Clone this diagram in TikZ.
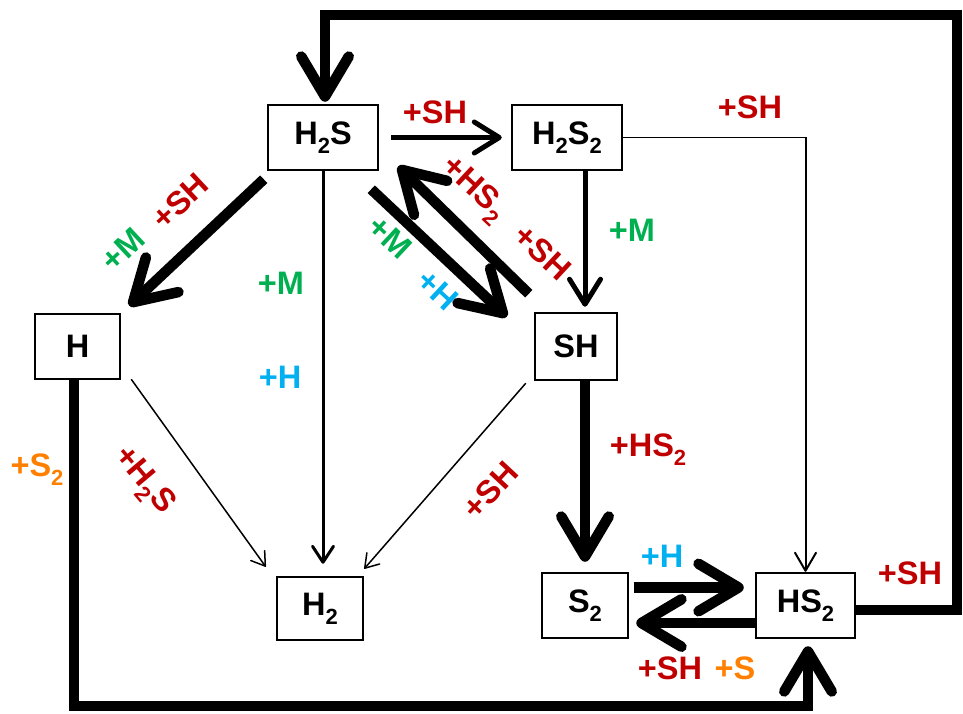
\documentclass[tikz,border=0pt]{standalone}
\usepackage{fontspec}
\setmainfont{Liberation Sans}
\usetikzlibrary{arrows.meta,calc}
\definecolor{cred}{HTML}{C00000}
\definecolor{cgreen}{HTML}{00B050}
\definecolor{cblue}{HTML}{00B0F0}
\definecolor{corange}{HTML}{FF8000}
\newcommand{\sbx}[1]{\raisebox{-0.28em}{\fontsize{12.5}{13}\selectfont #1}}
\begin{document}
\begin{tikzpicture}[x=0.02cm,y=-0.02cm,
  font=\fontsize{18.5}{20}\selectfont\bfseries,
  box/.style={draw, line width=0.05cm, minimum height=1.3cm, inner sep=0pt},
  lbl/.style={inner sep=0pt},
  thickc/.style={line width=0.21cm, -{Straight Barb[length=0.8cm,width=0.95cm,round]}},
  medc/.style={line width=0.1cm, -{Straight Barb[length=0.5cm,width=0.62cm,round]}},
  midc/.style={line width=0.06cm, -{Straight Barb[length=0.32cm,width=0.42cm,round]}},
  thinc/.style={line width=0.03cm, -{Straight Barb[length=0.26cm,width=0.34cm,round]}},
  thinb/.style={line width=0.04cm, -{Straight Barb[length=0.36cm,width=0.42cm,round]}},
]
\useasboundingbox (0,0) rectangle (963,713);

% nodes
\node[box, minimum width=2.2cm] (h2s) at (323,137.5) {H\sbx{2}S};
\node[box, minimum width=2.2cm] (h2s2) at (567,137.5) {H\sbx{2}S\sbx{2}};
\node[box, minimum width=1.7cm] (h) at (77.5,346.5) {H};
\node[box, minimum width=1.64cm, minimum height=1.34cm] (sh) at (576,346.5) {SH};
\node[box, minimum width=1.72cm, minimum height=1.26cm] (h2) at (320,608.5) {H\sbx{2}};
\node[box, minimum width=1.72cm] (s2) at (585,605.5) {S\sbx{2}};
\node[box, minimum width=1.98cm] (hs2) at (805.5,605.5) {HS\sbx{2}};

% coordinates for loops
\coordinate (loopA) at (957,610);
\coordinate (loopB) at (957,15);
\coordinate (loopC) at (325,15);
\coordinate (botL) at (74,706);
\coordinate (botR) at (808,706);

% HS2 -> H2S big loop
\draw[thickc] (hs2.east |- loopA) -- (loopA) -- (loopB) -- (loopC) -- ($(loopC |- h2s.north)+(0,-2)$);
% H -> HS2 big loop
\draw[thickc] (h.south -| botL) -- (botL) -- (botR) -- ($(hs2.south -| botR)+(0,7)$);

% H2S -> H2S2
\draw[medc] ($(h2s.east)+(12,0)$) -- ($(h2s2.west)+(-9,0)$);
% H2S2 -> HS2
\draw[thinb] (h2s2.east) -| (hs2.north);
% H2S2 -> SH
\draw[medc] (h2s2.south -| s2) -- ($(sh.north -| s2)+(0,-5)$);
% H2S -> H
\draw[thickc] ($(h2s.south west)+(-3,8)$) -- ($(h.north east)+(8,-7)$);
% H2S -> H2
\draw[midc] (h2s.south) -- ($(h2s.south |- h2.north)+(0,-12)$);
% H -> H2
\draw[thinc] ($(h.south east)+(10,-1)$) -- ($(h2.north west)+(-10,-9)$);
% SH -> H2
\draw[thinc] ($(sh.south west)+(-8,2)$) -- ($(h2.north east)+(0,-7)$);
% H2S -> SH
\draw[thickc] ($(h2s.south east)+(-8,18)$) -- ($(sh.north west)+(-27,5)$);
% SH -> H2S
\draw[thickc] ($(sh.north west)+(-5,-18)$) -- ($(h2s.south east)+(19,-5)$);
% SH -> S2
\draw[thickc] (sh.south -| s2) -- ($(s2.north)+(0,-10)$);
% S2 -> HS2
\draw[thickc] ($(s2.east)+(5,-18)$) -- ($(hs2.west)+(-11,-18)$);
% HS2 -> S2
\draw[thickc] ($(hs2.west)+(0,17.5)$) -- ($(s2.east)+(7,17.5)$);

% labels
\node[lbl, text=cred] (l1) at (435,112) {+SH};
\node[lbl, text=cred] (l2) at (750,107) {+SH};
\node[lbl, text=cgreen] (l3) at (632,230) {+M};
\node[lbl, text=cgreen, rotate=43] (l4) at (123,250) {+M};
\node[lbl, text=cred, rotate=43] (l5) at (180,201) {+SH};
\node[lbl, text=cgreen] (l6) at (281,283) {+M};
\node[lbl, text=cblue] (l7) at (280,377) {+H};
\node[lbl, text=cred, rotate=-50] (l8) at (143,481) {+H\sbx{2}S};
\node[lbl, text=cred, rotate=47] (l9) at (490,490) {+SH};
\node[lbl, text=cred, rotate=-43] (l10) at (473,190) {+HS\sbx{2}};
\node[lbl, text=cred, rotate=-43] (l11) at (543,252) {+SH};
\node[lbl, text=cgreen, rotate=-43] (l12) at (390,237) {+M};
\node[lbl, text=cblue, rotate=-43] (l13) at (438,290) {+H};
\node[lbl, text=cred] (l14) at (648,450) {+HS\sbx{2}};
\node[lbl, text=cblue] (l15) at (662,556) {+H};
\node[lbl, text=cred] (l16) at (670,668) {+SH};
\node[lbl, text=corange] (l17) at (735,668) {+S};
\node[lbl, text=corange] (l18) at (37,470) {+S\sbx{2}};
\node[lbl, text=cred] (l19) at (910,573) {+SH};
\end{tikzpicture}
\end{document}
